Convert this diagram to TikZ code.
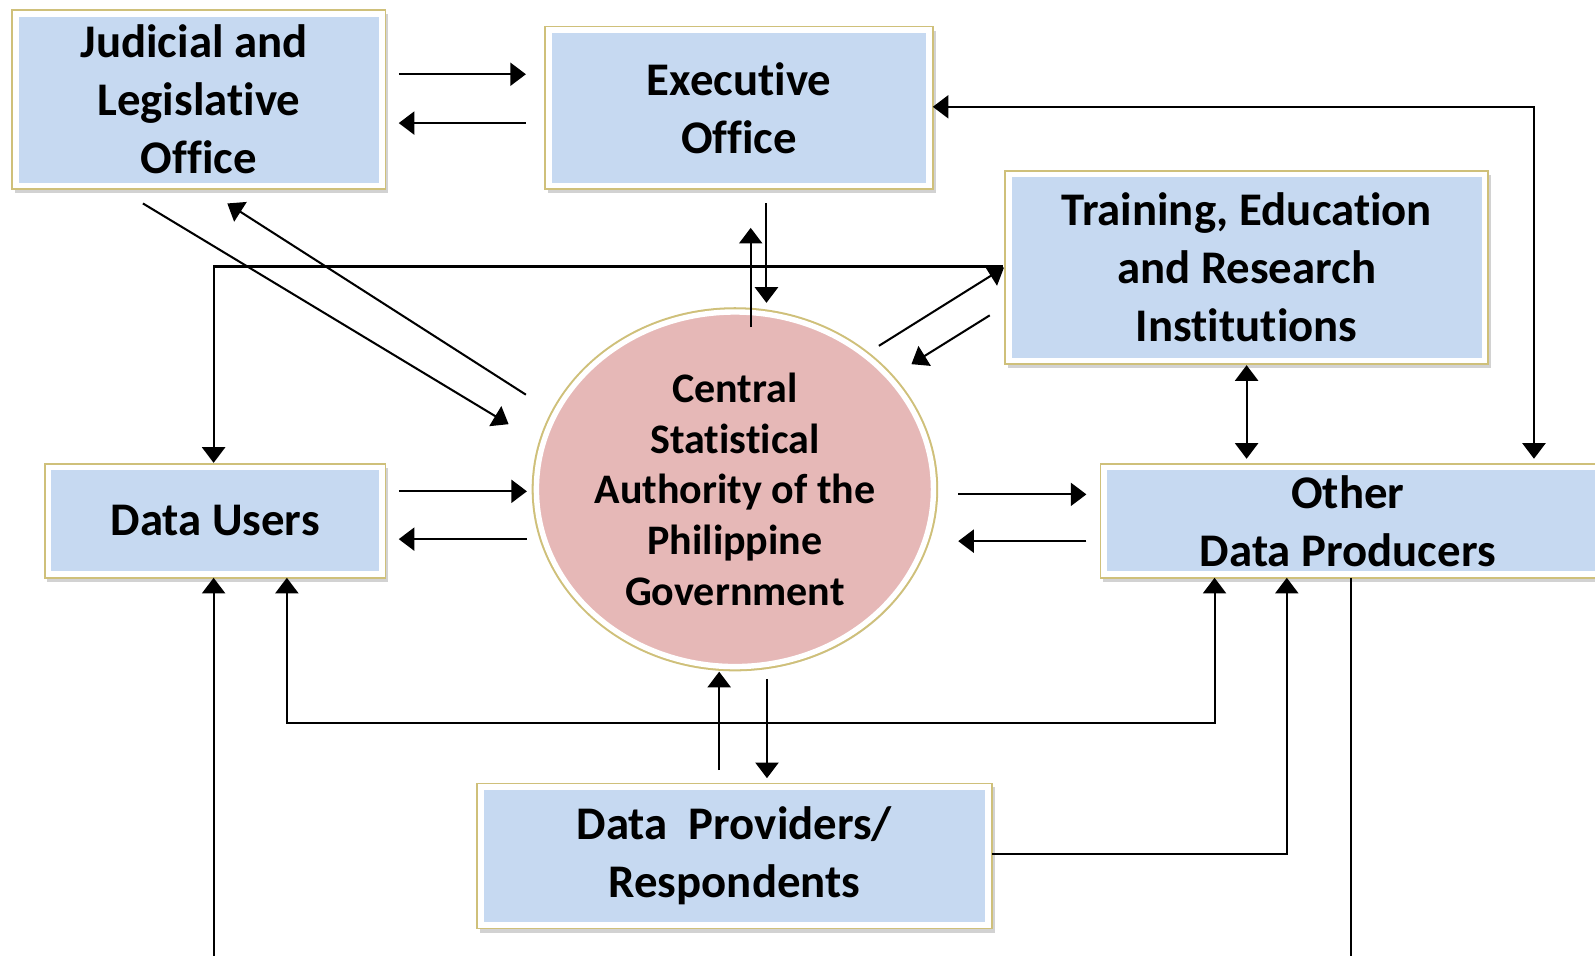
\documentclass[tikz,border=0pt]{standalone}
\usepackage{fontspec}
\setmainfont{Carlito}[Ligatures=NoCommon]
\usetikzlibrary{arrows.meta,shapes.geometric,shadows,calc}
\definecolor{boxblue}{HTML}{C6D9F1}
\definecolor{frameyel}{HTML}{CFC07A}
\definecolor{ctrpink}{HTML}{E6B8B7}
\tikzset{
  box/.style={rectangle, fill=white, draw=frameyel, line width=1.1pt, outer sep=0pt, inner sep=0pt,
    drop shadow={shadow xshift=2pt, shadow yshift=-3pt, opacity=0.25, fill=black!70},
    path picture={\fill[boxblue] ([shift={(4.8pt,-4.8pt)}]path picture bounding box.north west) rectangle ([shift={(-4.8pt,4.8pt)}]path picture bounding box.south east);},
    font=\fontsize{34.5}{42.75}\selectfont\bfseries, align=center},
  ctrstyle/.style={ellipse, outer sep=0pt, inner sep=0pt, fill=ctrpink, draw=white, line width=4pt,
    drop shadow={shadow xshift=2pt, shadow yshift=-3pt, opacity=0.25, fill=black!70},
    preaction={draw=frameyel, line width=7pt},
    font=\fontsize{31}{37.5}\selectfont\bfseries, align=center},
  boxtext/.style={font=\fontsize{34.5}{42.75}\selectfont\bfseries, align=center, inner sep=0pt},
  tipa/.tip={Triangle[length=11.5pt,width=17pt]},
  arr/.style={-tipa, line width=1.5pt},
  dblarr/.style={tipa-tipa, line width=1.5pt},
  ln/.style={line width=1.5pt}
}
\begin{document}
\begin{tikzpicture}[x=0.75pt, y=-0.75pt]
\useasboundingbox (0,0) rectangle (1568,939);
\clip (0,0) rectangle (1568,939);
\fill[white] (0,0) rectangle (1568,939);

% nodes
\node[box, minimum width=275.25pt, minimum height=132pt] (jud) at (195.5,98) {Judicial and\hspace*{7pt}\\Legislative\\Office};
\node[box, minimum width=285.75pt, minimum height=120pt] (exe) at (726.5,106) {Executive\\Office};
\node[box, minimum width=356.25pt, minimum height=142.5pt] (tra) at (1225.5,263) {Training, Education\\and Research\\Institutions};
\node[box, minimum width=251.25pt, minimum height=84pt] (usr) at (211.5,512) {Data Users};
\node[box, minimum width=381pt, minimum height=84pt] (odp) at (1336,512) {};
\node[boxtext] (odptxt) at (1325,512) {Other\\Data Producers};
\node[box, minimum width=379.5pt, minimum height=107.25pt] (prv) at (722,841.5) {Data~\ Providers/\\Respondents};
\node[ctrstyle, minimum width=290.7pt, minimum height=261.45pt] (ctr) at (722.5,481) {Central\\Statistical\\Authority of the\\Philippine\\Government};

% Judicial <-> Executive
\draw[arr, shorten <=9.75pt, shorten >=14.25pt] (jud.east |- 0,73) -- (exe.west |- 0,73);
\draw[arr, shorten <=14.25pt, shorten >=9.75pt] (exe.west |- 0,121) -- (jud.east |- 0,121);

% Judicial <-> Central
\draw[arr] ($(jud.south)+(-55,14)$) -- ($(ctr.center)+(-222.5,-64)$);
\draw[arr] ($(ctr.center)+(-205.5,-93)$) -- ($(jud.south)+(28,14)$);

% Executive <-> Central
\draw[arr] ($(ctr.north)+(15.5,15)$) -- ($(exe.south)+(11.5,38)$);
\draw[arr] ($(exe.south)+(27,14)$) -- ($(ctr.north)+(31,-9)$);

% Central <-> Training
\draw[arr] ($(ctr.center)+(141.5,-141)$) -- ($(tra.west)+(-1,0)$);
\draw[arr] ($(tra.west)+(-15,47)$) -- ($(ctr.center)+(173.5,-123)$);

% Training -> Data Users
\draw[arr] ($(tra.west)+(-2,-1)$) -| ($(usr.north)+(-1.5,-1)$);

% Data Users <-> Central
\draw[arr] ($(usr.east)+(13,-29)$) -- ($(ctr.center)+(-204.5,2)$);
\draw[arr] ($(ctr.center)+(-204.5,49)$) -- ($(usr.east)+(13,18)$);

% Central <-> Other Data Producers
\draw[arr] ($(ctr.center)+(219.5,5)$) -- ($(odp.west)+(-14,-26)$);
\draw[arr] ($(odp.west)+(-14,20)$) -- ($(ctr.center)+(219.5,51)$);

% Training <-> Other Data Producers
\draw[dblarr] ($(tra.south)+(0,1)$) -- ($(tra.south |- odp.north)+(0,-5)$);

% Other Data Producers <-> Executive
\draw[dblarr] ($(odp.north)+(172,-5)$) |- ($(exe.east)+(0,-1)$);

% Central <-> Providers
\draw[arr] ($(prv.north)+(-15,-13)$) -- ($(ctr.south)+(-15.5,5)$);
\draw[arr] ($(ctr.south)+(31.5,12)$) -- ($(prv.north)+(32,-5)$);

% Data Users <-> Other Data Producers (lower loop)
\draw[dblarr] ($(usr.south)+(70.5,0)$) -- ++(0,143) -| ($(odp.south)+(-142,0)$);

% Providers -> Other Data Producers
\draw[arr] (prv.east |- 0,840) -| ($(odp.south)+(-71,0)$);

% lines leaving the picture
\draw[arr] ($(usr.south)+(-1.5,400)$) -- ($(usr.south)+(-1.5,0)$);
\draw[ln] ($(odp.south)+(-8,0)$) -- ++(0,400);
\end{tikzpicture}
\end{document}
